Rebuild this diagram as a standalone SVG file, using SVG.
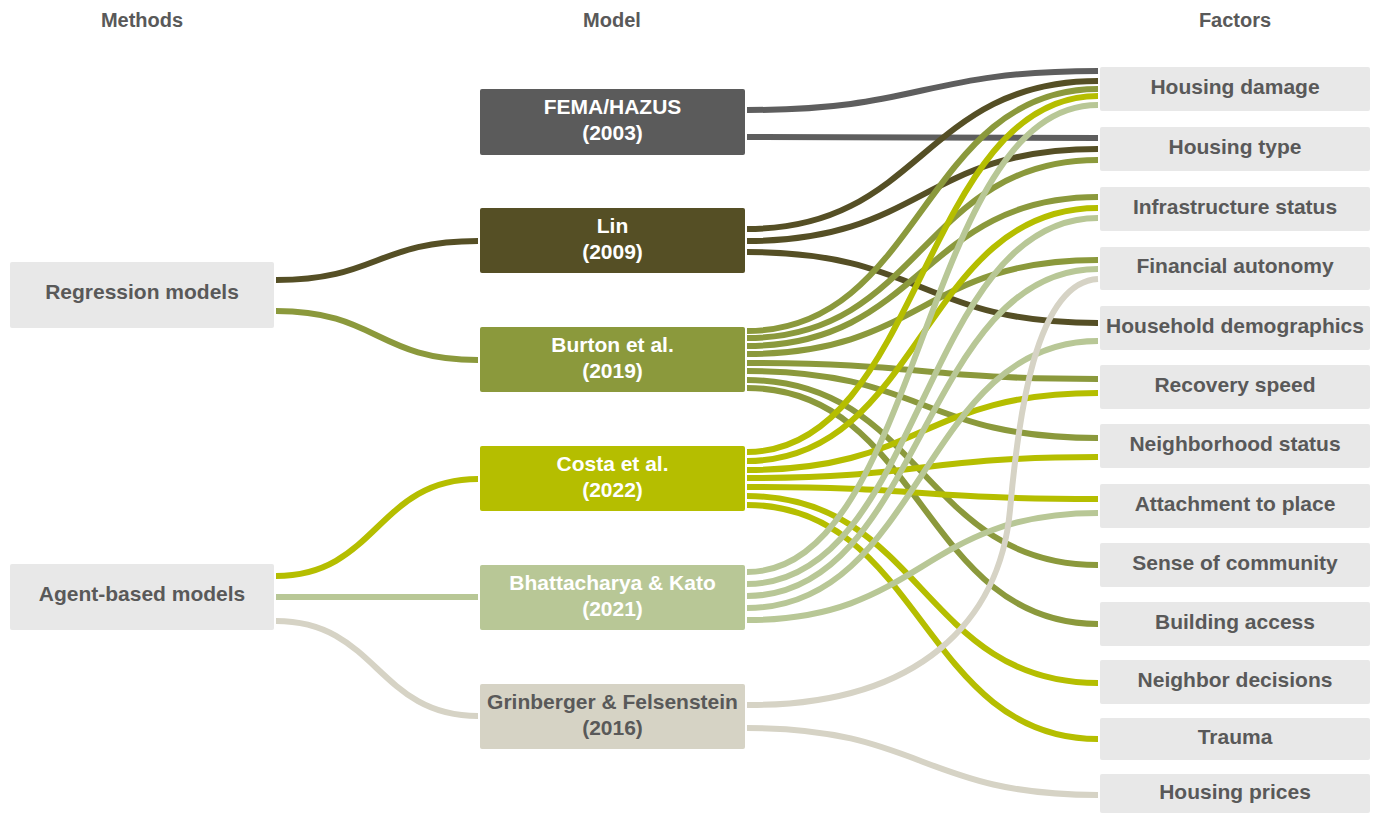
<svg xmlns="http://www.w3.org/2000/svg" width="1374" height="813" viewBox="0 0 1374 813">
<style>
.hdr{font-family:"Liberation Sans",Arial,sans-serif;font-weight:bold;font-size:20px;fill:#595959;text-anchor:middle}
.lbl{font-family:"Liberation Sans",Arial,sans-serif;font-weight:bold;font-size:21px;fill:#595959;text-anchor:middle}
.wlbl{font-family:"Liberation Sans",Arial,sans-serif;font-weight:bold;font-size:21px;fill:#ffffff;text-anchor:middle}
.gbox{fill:#e8e8e8}
.ln{fill:none;stroke-width:6}
.c-fema{stroke:#5e5e5e}
.c-lin{stroke:#554f25}
.c-bur{stroke:#8b993c}
.c-cos{stroke:#b5be00}
.c-bha{stroke:#b8c796}
.c-gri{stroke:#d6d3c5}
</style>
<rect width="1374" height="813" fill="#ffffff"/>
<text class="hdr" x="142" y="27">Methods</text>
<text class="hdr" x="612" y="27">Model</text>
<text class="hdr" x="1235" y="27">Factors</text>

<g id="connectors">
<!-- methods to models -->
<path class="ln c-lin" d="M276,280 C377,280 377,241 478,241"/>
<path class="ln c-bur" d="M276,311 C377,311 377,360 478,360"/>
<path class="ln c-cos" d="M276,576 C377,576 377,479 478,479"/>
<path class="ln c-bha" d="M276,597 C377,597 377,597 478,597"/>
<path class="ln c-gri" d="M276,621 C377,621 377,716 478,716"/>
<!-- FEMA -->
<path class="ln c-fema" d="M747,110 C922,110 922,71 1098,71"/>
<path class="ln c-fema" d="M747,137 C922,137 922,138 1098,138"/>
<!-- Lin -->
<path class="ln c-lin" d="M747,229 C922,229 922,81 1098,81"/>
<path class="ln c-lin" d="M747,241 C922,241 922,149 1098,149"/>
<path class="ln c-lin" d="M747,252 C922,252 922,323 1098,323"/>
<!-- Burton -->
<path class="ln c-bur" d="M747,331 C922,331 922,89 1098,89"/>
<path class="ln c-bur" d="M747,338 C922,338 922,160 1098,160"/>
<path class="ln c-bur" d="M747,346 C922,346 922,197 1098,197"/>
<path class="ln c-bur" d="M747,354 C922,354 922,260 1098,260"/>
<path class="ln c-bur" d="M747,363 C922,363 922,379 1098,379"/>
<path class="ln c-bur" d="M747,371 C922,371 922,438 1098,438"/>
<path class="ln c-bur" d="M747,380 C922,380 922,565 1098,565"/>
<path class="ln c-bur" d="M747,388 C922,388 922,624 1098,624"/>
<!-- Costa -->
<path class="ln c-cos" d="M747,452 C922,452 922,96 1098,96"/>
<path class="ln c-cos" d="M747,461 C922,461 922,208 1098,208"/>
<path class="ln c-cos" d="M747,470 C922,470 922,393 1098,393"/>
<path class="ln c-cos" d="M747,478 C922,478 922,457 1098,457"/>
<path class="ln c-cos" d="M747,487 C922,487 922,499 1098,499"/>
<path class="ln c-cos" d="M747,496 C922,496 922,683 1098,683"/>
<path class="ln c-cos" d="M747,505 C922,505 922,739 1098,739"/>
<!-- Bhattacharya -->
<path class="ln c-bha" d="M747,572 C922,572 922,105 1098,105"/>
<path class="ln c-bha" d="M747,584 C922,584 922,218 1098,218"/>
<path class="ln c-bha" d="M747,596 C922,596 922,269 1098,269"/>
<path class="ln c-bha" d="M747,608 C922,608 922,341 1098,341"/>
<path class="ln c-bha" d="M747,620 C922,620 922,513 1098,513"/>
<!-- Grinberger -->
<path class="ln c-gri" d="M747,705 C920,706 1000,620 1010,510 C1018,420 1035,282 1098,279"/>
<path class="ln c-gri" d="M747,728 C922,728 922,795 1098,795"/>
</g>

<g id="method-regression">
<rect class="gbox" x="10" y="262" width="264" height="66" rx="2"/>
<text class="lbl" x="142" y="299">Regression models</text>
</g>
<g id="method-agent">
<rect class="gbox" x="10" y="564" width="264" height="66" rx="2"/>
<text class="lbl" x="142" y="601">Agent-based models</text>
</g>

<g id="model-fema">
<rect x="480" y="89" width="265" height="66" rx="2" fill="#5b5b5b"/>
<text class="wlbl" x="612.5" y="114">FEMA/HAZUS</text>
<text class="wlbl" x="612.5" y="140">(2003)</text>
</g>
<g id="model-lin">
<rect x="480" y="208" width="265" height="65" rx="2" fill="#554f25"/>
<text class="wlbl" x="612.5" y="233">Lin</text>
<text class="wlbl" x="612.5" y="259">(2009)</text>
</g>
<g id="model-burton">
<rect x="480" y="327" width="265" height="65" rx="2" fill="#8b993c"/>
<text class="wlbl" x="612.5" y="352">Burton et al.</text>
<text class="wlbl" x="612.5" y="378">(2019)</text>
</g>
<g id="model-costa">
<rect x="480" y="446" width="265" height="65" rx="2" fill="#b5be00"/>
<text class="wlbl" x="612.5" y="471">Costa et al.</text>
<text class="wlbl" x="612.5" y="497">(2022)</text>
</g>
<g id="model-bhattacharya">
<rect x="480" y="565" width="265" height="65" rx="2" fill="#b8c796"/>
<text class="wlbl" x="612.5" y="590">Bhattacharya &amp; Kato</text>
<text class="wlbl" x="612.5" y="616">(2021)</text>
</g>
<g id="model-grinberger">
<rect x="480" y="684" width="265" height="65" rx="2" fill="#d6d3c5"/>
<text class="lbl" x="612.5" y="709">Grinberger &amp; Felsenstein</text>
<text class="lbl" x="612.5" y="735">(2016)</text>
</g>

<g id="factor-housing-damage"><rect class="gbox" x="1100" y="67" width="270" height="44" rx="2"/><text class="lbl" x="1235" y="94">Housing damage</text></g>
<g id="factor-housing-type"><rect class="gbox" x="1100" y="127" width="270" height="44" rx="2"/><text class="lbl" x="1235" y="154">Housing type</text></g>
<g id="factor-infrastructure"><rect class="gbox" x="1100" y="187" width="270" height="44" rx="2"/><text class="lbl" x="1235" y="214">Infrastructure status</text></g>
<g id="factor-financial"><rect class="gbox" x="1100" y="247" width="270" height="43" rx="2"/><text class="lbl" x="1235" y="273">Financial autonomy</text></g>
<g id="factor-household"><rect class="gbox" x="1100" y="306" width="270" height="44" rx="2"/><text class="lbl" x="1235" y="333">Household demographics</text></g>
<g id="factor-recovery"><rect class="gbox" x="1100" y="365" width="270" height="44" rx="2"/><text class="lbl" x="1235" y="392">Recovery speed</text></g>
<g id="factor-neighborhood"><rect class="gbox" x="1100" y="424" width="270" height="44" rx="2"/><text class="lbl" x="1235" y="451">Neighborhood status</text></g>
<g id="factor-attachment"><rect class="gbox" x="1100" y="484" width="270" height="44" rx="2"/><text class="lbl" x="1235" y="511">Attachment to place</text></g>
<g id="factor-sense"><rect class="gbox" x="1100" y="543" width="270" height="44" rx="2"/><text class="lbl" x="1235" y="570">Sense of community</text></g>
<g id="factor-building"><rect class="gbox" x="1100" y="602" width="270" height="44" rx="2"/><text class="lbl" x="1235" y="629">Building access</text></g>
<g id="factor-neighbor"><rect class="gbox" x="1100" y="660" width="270" height="44" rx="2"/><text class="lbl" x="1235" y="687">Neighbor decisions</text></g>
<g id="factor-trauma"><rect class="gbox" x="1100" y="718" width="270" height="42" rx="2"/><text class="lbl" x="1235" y="744">Trauma</text></g>
<g id="factor-housing-prices"><rect class="gbox" x="1100" y="774" width="270" height="39" rx="2"/><text class="lbl" x="1235" y="799">Housing prices</text></g>
</svg>
